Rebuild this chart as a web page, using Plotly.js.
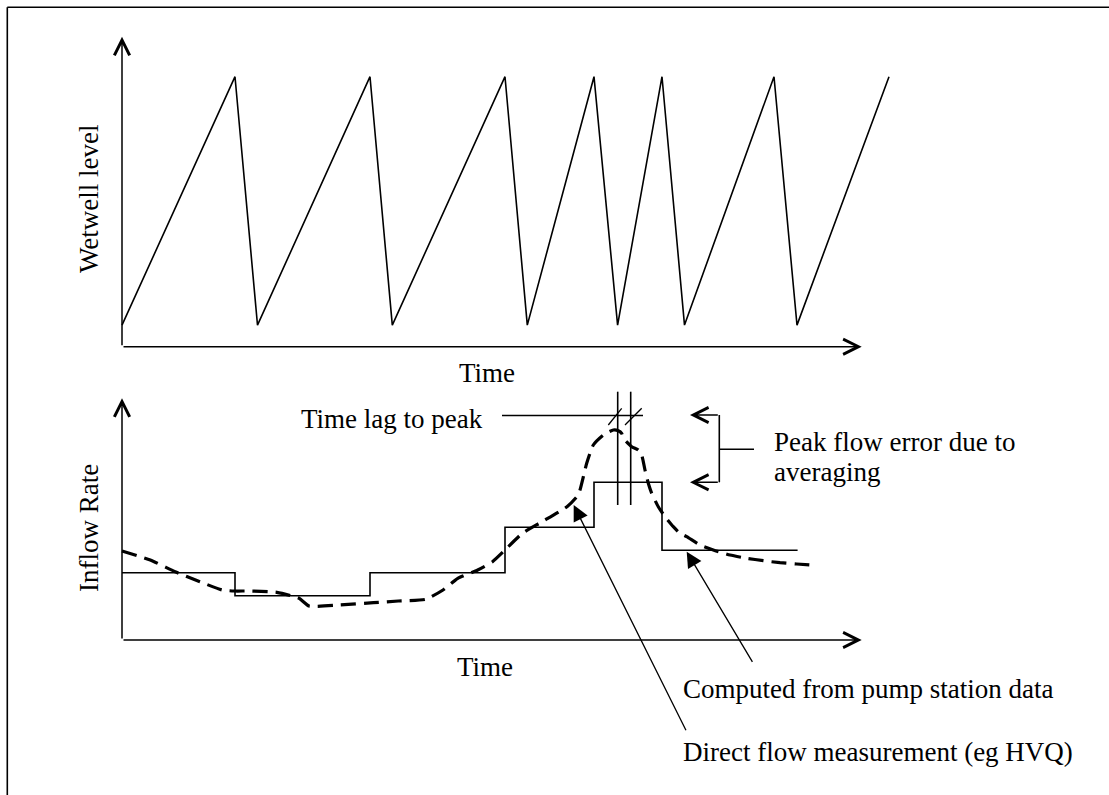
<!DOCTYPE html>
<html><head><meta charset="utf-8">
<script src="https://cdn.plot.ly/plotly-3.0.1.min.js"></script>
<style>html,body{margin:0;padding:0;background:#fff;} #chart{width:1109px;height:795px;}</style>
</head><body><div id="chart"></div>
<script>
// ---- data (time in arbitrary units, level / flow in arbitrary units) ----
// Wetwell level sawtooth: alternating pump-off (low) and pump-on (high) levels
const levelTime  = [0, 11.3, 13.55, 24.8, 27.03, 38.3, 40.53, 47.2, 49.56, 54.0, 56.25, 65.2, 67.5, 76.7];
const levelValue = [0.8, 10, 0.8, 10, 0.8, 10, 0.8, 10, 0.8, 10, 0.8, 10, 0.8, 10];

// Inflow computed from pump station data (one average per pump cycle)
const stepTime = [0, 11.3, 24.8, 38.3, 47.2, 54.0, 67.56];
const stepFlow = [6.73, 4.43, 6.73, 11.27, 15.77, 8.97, 8.97];

// Direct flow measurement (eg HVQ)
const directTime = [0, 2.83, 5.31, 7.79, 10.02, 11.26, 12.75, 15.48, 17.71, 18.7, 21.68, 25.15, 27.63, 30.36, 32.1, 33.58, 35.57, 37.05, 38.3, 40.03, 42.01, 44.5, 45.49, 45.8, 46.47, 47.13, 48.13, 49.13, 49.63, 49.97, 50.13, 50.97, 51.63, 51.97, 52.3, 52.63, 52.97, 53.63, 54.3, 55.13, 55.8, 56.47, 57.8, 59.13, 60.8, 62.47, 64.13, 65.8, 67.47, 68.8];
const directFlow = [8.9, 8.0, 6.83, 5.83, 5.0, 4.9, 4.9, 4.77, 4.17, 3.4, 3.5, 3.73, 3.9, 4.07, 5.0, 6.17, 7.0, 7.83, 9.0, 10.67, 11.83, 13.33, 14.33, 15.0, 17.67, 19.5, 20.5, 21.0, 20.93, 20.67, 20.17, 19.33, 19.0, 18.5, 17.0, 15.67, 14.67, 13.33, 12.33, 11.33, 10.67, 10.33, 9.5, 9.0, 8.5, 8.17, 7.93, 7.73, 7.6, 7.5];

// Text labels
const labels = {
  wetwell: 'Wetwell level',
  inflow: 'Inflow Rate',
  time: 'Time',
  lag: 'Time lag to peak',
  peak1: 'Peak flow error due to',
  peak2: 'averaging',
  computed: 'Computed from pump station data',
  direct: 'Direct flow measurement (eg HVQ)'
};

// ---- helpers for placing decorations (page pixel -> axis units) ----
const W = 1109, H = 795;
const PX  = px => (px - 122) / 10;
const PY1 = py => (346.7 - py) / 27;
const PY2 = py => (640 - py) / 10;

const FONT = {family: '"Liberation Serif", "Times New Roman", serif', size: 27, color: '#000'};
const LW = 1.6;

const traces = [
  {x: levelTime, y: levelValue, xaxis: 'x', yaxis: 'y', mode: 'lines',
   line: {color: '#000', width: LW}, hoverinfo: 'skip'},
  {x: stepTime, y: stepFlow, xaxis: 'x', yaxis: 'y2', mode: 'lines',
   line: {color: '#000', width: LW, shape: 'hv'}, hoverinfo: 'skip'},
  {x: directTime, y: directFlow, xaxis: 'x', yaxis: 'y2', mode: 'lines',
   line: {color: '#000', width: 3.2, dash: '15px,8px', shape: 'spline', smoothing: 0.5}, hoverinfo: 'skip'}
];

function axisArrow(yref, tx, ty, ax, ay) {
  return {xref: 'x', yref: yref, axref: 'x', ayref: yref, x: tx, y: ty, ax: ax, ay: ay,
          text: '', showarrow: true, arrowhead: 5, arrowsize: 2, arrowwidth: 1.5, arrowcolor: '#000', standoff: 0};
}
function pointer(tx, ty, ax, ay) {
  return {xref: 'x', yref: 'y2', axref: 'x', ayref: 'y2', x: tx, y: ty, ax: ax, ay: ay,
          text: '', showarrow: true, arrowhead: 2, arrowsize: 2.4, arrowwidth: 1.3, arrowcolor: '#000', standoff: 0};
}
function label(text, px, py, xanchor, angle) {
  return {xref: 'paper', yref: 'paper', x: px / W, y: 1 - py / H, text: text, showarrow: false,
          xanchor: xanchor, yanchor: 'middle', font: FONT, textangle: angle || 0, borderpad: 0};
}

const annotations = [
  // axes with open arrowheads
  axisArrow('y', PX(122), PY1(36.7), PX(122), PY1(346.7)),
  axisArrow('y', PX(861.7), PY1(346.7), PX(122), PY1(346.7)),
  axisArrow('y2', PX(122), PY2(398.3), PX(122), PY2(640)),
  axisArrow('y2', PX(861.7), PY2(640), PX(122), PY2(640)),
  // peak error bracket arrows
  axisArrow('y2', PX(690), PY2(415), PX(719.3), PY2(415)),
  axisArrow('y2', PX(690), PY2(482.3), PX(719.3), PY2(482.3)),
  // pointers
  pointer(PX(573.7), PY2(505), PX(686.7), PY2(731.7)),
  pointer(PX(686.7), PY2(551.7), PX(753.3), PY2(663.3)),
  // labels
  label(labels.wetwell, 89, 199, 'center', -90),
  label(labels.inflow, 89, 528, 'center', -90),
  label(labels.time, 487, 373.3, 'center'),
  label(labels.time, 485, 667, 'center'),
  label(labels.lag, 300, 419.2, 'left'),
  label(labels.peak1, 772.7, 441.7, 'left'),
  label(labels.peak2, 772.7, 471.7, 'left'),
  label(labels.computed, 681.7, 689, 'left'),
  label(labels.direct, 681.7, 752, 'left')
];

function seg(yref, x0, y0, x1, y1, w) {
  return {type: 'line', xref: 'x', yref: yref, x0: x0, y0: y0, x1: x1, y1: y1,
          line: {color: '#000', width: w || LW}};
}
const shapes = [
  // frame (top and left edges)
  {type: 'line', xref: 'paper', yref: 'paper', x0: 7.3 / W, y0: 1 - 7.3 / H, x1: 1, y1: 1 - 7.3 / H, line: {color: '#000', width: 1.6}},
  {type: 'line', xref: 'paper', yref: 'paper', x0: 7.3 / W, y0: 1 - 7.3 / H, x1: 7.3 / W, y1: 0, line: {color: '#000', width: 1.6}},
  // time lag marker
  seg('y2', PX(502), PY2(415.5), PX(643), PY2(415.5)),
  seg('y2', PX(617.7), PY2(391.7), PX(617.7), PY2(505)),
  seg('y2', PX(630.7), PY2(391.7), PX(630.7), PY2(505)),
  seg('y2', PX(608.3), PY2(425), PX(621.7), PY2(408.3), 1.3),
  seg('y2', PX(625), PY2(425), PX(641.7), PY2(408.3), 1.3),
  // bracket
  seg('y2', PX(719.3), PY2(415), PX(719.3), PY2(482.3)),
  seg('y2', PX(719.3), PY2(449.3), PX(754), PY2(449.3))
];

const hidden = {visible: false, fixedrange: true, showgrid: false, zeroline: false};
const layout = {
  width: W, height: H,
  margin: {l: 0, r: 0, t: 0, b: 0, pad: 0},
  paper_bgcolor: '#fff', plot_bgcolor: '#fff',
  showlegend: false, hovermode: false,
  xaxis: Object.assign({}, hidden, {domain: [0, 1], range: [PX(0), PX(W)], anchor: 'y'}),
  yaxis: Object.assign({}, hidden, {domain: [0, 1], range: [PY1(H), PY1(0)], anchor: 'x'}),
  yaxis2: Object.assign({}, hidden, {domain: [0, 1], range: [PY2(H), PY2(0)], anchor: 'x', overlaying: 'y'}),
  annotations: annotations,
  shapes: shapes
};

Plotly.newPlot('chart', traces, layout, {staticPlot: true, displayModeBar: false});
</script>
</body></html>
